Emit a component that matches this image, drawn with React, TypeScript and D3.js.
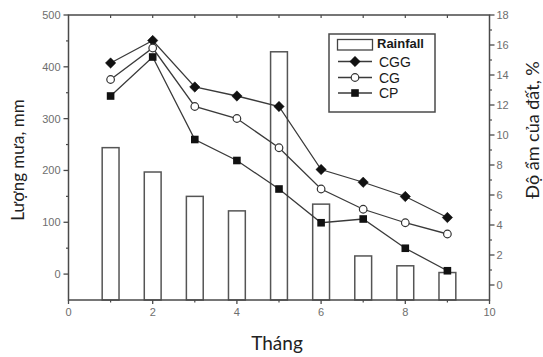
import React from "react";
import * as d3 from "d3";

const months = [1, 2, 3, 4, 5, 6, 7, 8, 9];
const rainfall = [244, 197, 150, 122, 429, 135, 35, 16, 3];
const cgg = [14.8, 16.3, 13.2, 12.6, 11.9, 7.7, 6.85, 5.9, 4.5];
const cg = [13.7, 15.8, 11.9, 11.1, 9.15, 6.4, 5.05, 4.15, 3.4];
const cp = [12.6, 15.2, 9.7, 8.3, 6.4, 4.15, 4.4, 2.45, 0.95];
const xTicks = [0, 2, 4, 6, 8, 10];
const leftTicks = [0, 100, 200, 300, 400, 500];
const rightTicks = [0, 2, 4, 6, 8, 10, 12, 14, 16, 18];
const legendLabels = ["Rainfall", "CGG", "CG", "CP"];

const W = 543;
const H = 357;
const L = 68.5, R = 489.5, T = 15, B = 300;
const axisColor = "#4a4a4a";
const tickColor = "#6e6e6e";
const lineColor = "#3a3a3a";

export default function App() {
  const x = d3.scaleLinear().domain([0, 10]).range([L, R]);
  const yL = d3.scaleLinear().domain([-50, 500]).range([B, T]);
  const yR = d3.scaleLinear().domain([-1, 18]).range([B, T]);
  const barW = x(0.4) - x(0);

  const line = d3
    .line<number>()
    .x((_, i) => x(months[i]))
    .y((d) => yR(d));

  const series = [
    { name: "CGG", values: cgg, marker: "diamond" },
    { name: "CG", values: cg, marker: "circle" },
    { name: "CP", values: cp, marker: "square" },
  ];

  const marker = (type: string, cx: number, cy: number, key: string) => {
    if (type === "diamond") {
      const s = 5.2;
      return (
        <path
          key={key}
          d={`M${cx},${cy - s}L${cx + s},${cy}L${cx},${cy + s}L${cx - s},${cy}Z`}
          fill="#111"
          stroke="#111"
          strokeWidth={0.5}
        />
      );
    }
    if (type === "circle") {
      return <circle key={key} cx={cx} cy={cy} r={3.8} fill="#fff" stroke="#333" strokeWidth={1.2} />;
    }
    const s = 3.8;
    return <rect key={key} x={cx - s} y={cy - s} width={2 * s} height={2 * s} fill="#111" />;
  };

  const minorX = d3.range(1, 10, 2);
  const topTicks = d3.range(1, 10, 1);
  const minorLeft = [50, 150, 250, 350, 450];
  const minorRight = d3.range(1, 18, 2);

  const legX = 329, legY = 34;
  const rowY = [44.5, 61.5, 77.5, 93];

  return (
    <svg width={W} height={H} style={{ position: "absolute", left: 0, top: 0, background: "#fff" }}>
      <rect x={0} y={0} width={W} height={H} fill="#fff" />
      {/* bars */}
      {months.map((m, i) => (
        <rect
          key={"b" + i}
          x={x(m) - barW / 2}
          y={yL(rainfall[i])}
          width={barW}
          height={B - yL(rainfall[i])}
          fill="#fff"
          stroke="#555"
          strokeWidth={1.5}
        />
      ))}
      {/* lines */}
      {series.map((s) => (
        <g key={s.name}>
          <path d={line(s.values) || ""} fill="none" stroke={lineColor} strokeWidth={1.3} />
          {s.values.map((v, i) => marker(s.marker, x(months[i]), yR(v), s.name + i))}
        </g>
      ))}
      {/* frame */}
      <rect x={L} y={T} width={R - L} height={B - T} fill="none" stroke={axisColor} strokeWidth={1.5} />
      {/* bottom axis */}
      {xTicks.map((t) => (
        <g key={"xt" + t}>
          <line x1={x(t)} x2={x(t)} y1={B} y2={B + 4} stroke={axisColor} strokeWidth={1.3} />
          <text x={x(t)} y={B + 16} textAnchor="middle" fontFamily="Liberation Sans, Arial" fontSize={11} fill={tickColor}>
            {t}
          </text>
        </g>
      ))}
      {minorX.map((t) => (
        <line key={"xm" + t} x1={x(t)} x2={x(t)} y1={B} y2={B + 2.5} stroke={axisColor} strokeWidth={1.2} />
      ))}
      {/* top ticks */}
      {topTicks.map((t) => (
        <line key={"tt" + t} x1={x(t)} x2={x(t)} y1={T} y2={T + 3} stroke={axisColor} strokeWidth={1.2} />
      ))}
      {/* left axis */}
      {leftTicks.map((t) => (
        <g key={"lt" + t}>
          <line x1={L - 5} x2={L} y1={yL(t)} y2={yL(t)} stroke={axisColor} strokeWidth={1.3} />
          <text x={L - 8} y={yL(t) + 4} textAnchor="end" fontFamily="Liberation Sans, Arial" fontSize={11} fill={tickColor}>
            {t}
          </text>
        </g>
      ))}
      {minorLeft.map((t) => (
        <line key={"lm" + t} x1={L - 2.5} x2={L} y1={yL(t)} y2={yL(t)} stroke={axisColor} strokeWidth={1.2} />
      ))}
      {/* right axis */}
      {rightTicks.map((t) => (
        <g key={"rt" + t}>
          <line x1={R} x2={R + 5} y1={yR(t)} y2={yR(t)} stroke={axisColor} strokeWidth={1.3} />
          <text x={R + 7} y={yR(t) + 4} textAnchor="start" fontFamily="Liberation Sans, Arial" fontSize={11} fill={tickColor}>
            {t}
          </text>
        </g>
      ))}
      {minorRight.map((t) => (
        <line key={"rm" + t} x1={R} x2={R + 2.5} y1={yR(t)} y2={yR(t)} stroke={axisColor} strokeWidth={1.2} />
      ))}
      {/* axis titles */}
      <text
        transform={`translate(24,160) rotate(-90)`}
        textAnchor="middle"
        fontFamily="Lato, 'Open Sans', sans-serif"
        fontSize={17}
        fill="#222"
      >
        Lượng mưa, mm
      </text>
      <text
        transform={`translate(539,130) rotate(-90)`}
        textAnchor="middle"
        fontFamily="Lato, 'Open Sans', sans-serif"
        fontSize={18}
        fill="#222"
      >
        Độ ẩm của đất, %
      </text>
      <text x={277} y={350} textAnchor="middle" fontFamily="Lato, 'Open Sans', sans-serif" fontSize={19} fill="#222">
        Tháng
      </text>
      {/* legend */}
      <rect x={legX} y={legY} width={106} height={78} fill="#fff" stroke={axisColor} strokeWidth={1.5} />
      <rect x={337.5} y={39.5} width={35} height={10.5} fill="#fff" stroke="#444" strokeWidth={1.3} />
      {legendLabels.map((lab, i) => (
        <text
          key={"lg" + lab}
          x={i === 0 ? 377 : 379}
          y={rowY[i] + (i === 0 ? 3 : 5)}
          fontFamily="Liberation Sans, Arial"
          fontSize={i === 0 ? 13 : 14}
          fontWeight={i === 0 ? "bold" : "normal"}
          fill="#1a1a1a"
        >
          {lab}
        </text>
      ))}
      {series.map((s, i) => (
        <g key={"lgm" + s.name}>
          <line x1={338} x2={372} y1={rowY[i + 1]} y2={rowY[i + 1]} stroke={lineColor} strokeWidth={1.3} />
          {marker(s.marker, 355, rowY[i + 1], "lgmk" + i)}
        </g>
      ))}
    </svg>
  );
}
